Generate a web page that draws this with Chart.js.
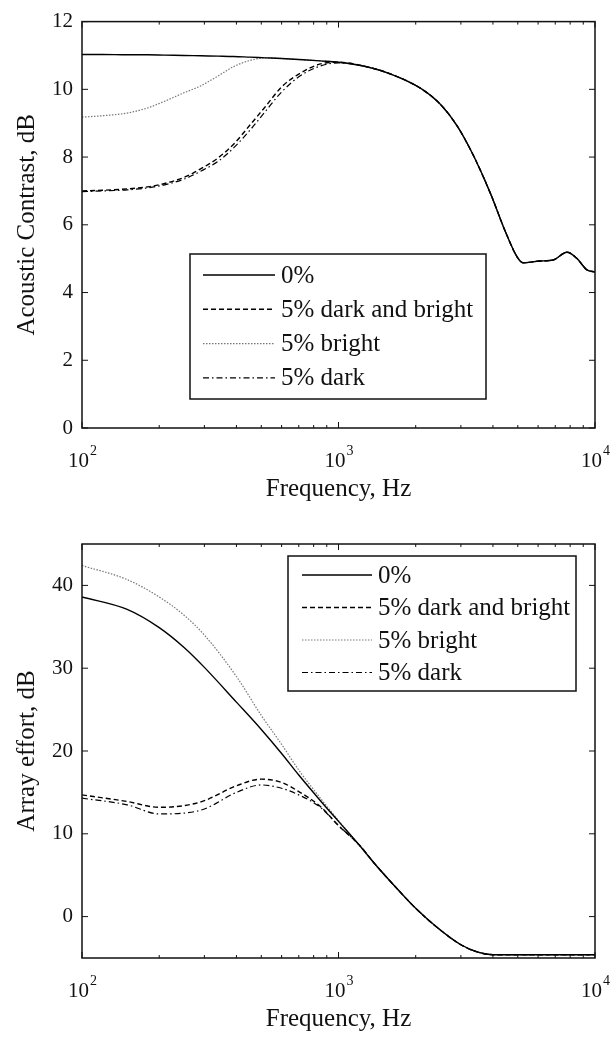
<!DOCTYPE html>
<html>
<head>
<meta charset="utf-8">
<script src="https://cdn.jsdelivr.net/npm/chart.js@4.4.1/dist/chart.umd.min.js"></script>
<style>
  body { margin: 0; background: #fff; }
  #wrap { position: relative; width: 613px; height: 1039px; }
  canvas { position: absolute; left: 0; }
</style>
</head>
<body>
<div id="wrap">
  <canvas id="contrastChart" width="613" height="520" style="top:0"></canvas>
  <canvas id="effortChart" width="613" height="519" style="top:520px"></canvas>
</div>
<script>
const seriesLabels = ['0%', '5% dark and bright', '5% bright', '5% dark'];
const freqTickExps = [2, 3, 4];

// upper plot: acoustic contrast
const contrastFreq   = [100, 120, 150, 180, 210, 250, 290, 340, 390, 450, 520, 600, 700, 850, 1000, 1300, 1600, 2100, 2500, 2900, 3350, 3900, 4500, 4970, 5230, 6100, 6860, 7780, 8490, 9300, 10000];
const contrastNone   = [11.03, 11.03, 11.02, 11.02, 11.01, 11.0, 10.99, 10.98, 10.97, 10.95, 10.93, 10.91, 10.88, 10.84, 10.8, 10.66, 10.45, 10.02, 9.55, 8.92, 8.06, 6.95, 5.75, 5.05, 4.88, 4.93, 4.96, 5.19, 5.01, 4.67, 4.61];
const contrastBoth   = [7.0, 7.02, 7.06, 7.12, 7.22, 7.4, 7.65, 7.98, 8.38, 8.93, 9.5, 10.07, 10.45, 10.75, 10.8, 10.66, 10.45, 10.02, 9.55, 8.92, 8.06, 6.95, 5.75, 5.05, 4.88, 4.93, 4.96, 5.19, 5.01, 4.67, 4.61];
const contrastBright = [9.18, 9.22, 9.3, 9.45, 9.65, 9.9, 10.1, 10.4, 10.67, 10.85, 10.93, 10.91, 10.88, 10.84, 10.8, 10.66, 10.45, 10.02, 9.55, 8.92, 8.06, 6.95, 5.75, 5.05, 4.88, 4.93, 4.96, 5.19, 5.01, 4.67, 4.61];
const contrastDark   = [6.98, 7.0, 7.03, 7.09, 7.18, 7.35, 7.58, 7.88, 8.27, 8.78, 9.36, 9.92, 10.37, 10.69, 10.78, 10.66, 10.45, 10.02, 9.55, 8.92, 8.06, 6.95, 5.75, 5.05, 4.88, 4.93, 4.96, 5.19, 5.01, 4.67, 4.61];
const contrastYTicks = [0, 2, 4, 6, 8, 10, 12];

// lower plot: array effort
const effortFreq   = [100, 150, 200, 250, 300, 400, 500, 600, 700, 850, 1000, 1200, 1400, 1700, 2000, 2400, 3000, 3500, 4000, 5000, 7000, 10000];
const effortNone   = [38.6, 37.1, 34.9, 32.5, 30.1, 25.9, 22.6, 19.7, 17.1, 14.0, 11.5, 8.7, 6.2, 3.3, 1.0, -1.2, -3.4, -4.3, -4.6, -4.6, -4.6, -4.6];
const effortBoth   = [14.7, 13.9, 13.2, 13.4, 14.0, 15.8, 16.6, 16.2, 15.1, 13.3, 11.0, 8.7, 6.2, 3.3, 1.0, -1.2, -3.4, -4.3, -4.6, -4.6, -4.6, -4.6];
const effortBright = [42.4, 40.7, 38.6, 36.4, 34.0, 29.0, 24.3, 20.8, 17.7, 14.3, 11.6, 8.7, 6.2, 3.3, 1.0, -1.2, -3.4, -4.3, -4.6, -4.6, -4.6, -4.6];
const effortDark   = [14.3, 13.5, 12.4, 12.5, 13.0, 15.0, 15.9, 15.5, 14.7, 13.2, 11.0, 8.7, 6.2, 3.3, 1.0, -1.2, -3.4, -4.3, -4.6, -4.6, -4.6, -4.6];
const effortYTicks = [0, 10, 20, 30, 40];

const serif = '"Liberation Serif", "Times New Roman", serif';
const lineStyles = [
  { color: '#000', width: 1.4, dash: [] },
  { color: '#000', width: 1.4, dash: [5, 3] },
  { color: '#777', width: 1.2, dash: [1.5, 1.5] },
  { color: '#000', width: 1.2, dash: [6, 3, 1.5, 3] }
];

// box, inward ticks on all four sides, 10^n labels
const frameTicks = {
  id: 'frameTicks',
  afterDraw(chart) {
    const { ctx, chartArea: a, scales: { x, y } } = chart;
    ctx.save();
    ctx.strokeStyle = '#111';
    ctx.lineWidth = 1;
    ctx.beginPath();
    y.ticks.forEach(t => {
      const py = y.getPixelForValue(t.value);
      ctx.moveTo(a.left, py); ctx.lineTo(a.left + 6, py);
      ctx.moveTo(a.right, py); ctx.lineTo(a.right - 6, py);
    });
    for (let e = 2; e <= 4; e++) {
      for (let m = 1; m <= 9; m++) {
        const v = m * Math.pow(10, e);
        if (v > 10000) break;
        const px = x.getPixelForValue(v);
        const len = m === 1 ? 6 : 3;
        ctx.moveTo(px, a.bottom); ctx.lineTo(px, a.bottom - len);
        ctx.moveTo(px, a.top); ctx.lineTo(px, a.top + len);
      }
    }
    ctx.stroke();
    ctx.lineWidth = 1.5;
    ctx.strokeRect(a.left, a.top, a.right - a.left, a.bottom - a.top);

    ctx.fillStyle = '#111';
    ctx.textBaseline = 'alphabetic';
    freqTickExps.forEach(e => {
      const px = x.getPixelForValue(Math.pow(10, e));
      ctx.font = '21px ' + serif;
      const wBase = ctx.measureText('10').width;
      ctx.font = '14px ' + serif;
      const wExp = ctx.measureText(String(e)).width;
      const x0 = px - (wBase + wExp) / 2;
      ctx.font = '21px ' + serif;
      ctx.fillText('10', x0, a.bottom + 39);
      ctx.font = '14px ' + serif;
      ctx.fillText(String(e), x0 + wBase + 1, a.bottom + 27);
    });
    ctx.restore();
  }
};

// legend in a framed box inside the plot
const boxLegend = {
  id: 'boxLegend',
  afterDatasetsDraw(chart, args, opts) {
    const { ctx } = chart;
    ctx.save();
    ctx.fillStyle = '#fff';
    ctx.fillRect(opts.x1, opts.y1, opts.x2 - opts.x1, opts.y2 - opts.y1);
    ctx.strokeStyle = '#111';
    ctx.lineWidth = 1.5;
    ctx.strokeRect(opts.x1, opts.y1, opts.x2 - opts.x1, opts.y2 - opts.y1);
    ctx.font = '25px ' + serif;
    ctx.textBaseline = 'middle';
    chart.data.datasets.forEach((ds, i) => {
      const cy = opts.row0 + i * opts.rowH;
      ctx.strokeStyle = ds.borderColor;
      ctx.lineWidth = ds.borderWidth;
      ctx.setLineDash(ds.borderDash);
      ctx.beginPath();
      ctx.moveTo(opts.lineX1, cy);
      ctx.lineTo(opts.lineX2, cy);
      ctx.stroke();
      ctx.setLineDash([]);
      ctx.fillStyle = '#111';
      ctx.fillText(ds.label, opts.textX, cy + 1);
    });
    ctx.restore();
  }
};

function makeChart(id, cfg) {
  const ctx = document.getElementById(id).getContext('2d');
  return new Chart(ctx, {
    type: 'line',
    data: {
      datasets: cfg.series.map((s, i) => ({
        label: seriesLabels[i],
        data: cfg.freq.map((f, j) => ({ x: f, y: s[j] })),
        borderColor: lineStyles[i].color,
        borderWidth: lineStyles[i].width,
        borderDash: lineStyles[i].dash,
        pointRadius: 0,
        cubicInterpolationMode: 'monotone',
        fill: false
      }))
    },
    options: {
      responsive: false,
      animation: false,
      layout: { padding: { top: cfg.padTop, right: 18, left: 0, bottom: 0 } },
      plugins: {
        legend: { display: false },
        tooltip: { enabled: false },
        boxLegend: cfg.legend
      },
      scales: {
        x: {
          type: 'logarithmic',
          min: 100,
          max: 10000,
          grid: { display: false, drawTicks: false },
          border: { display: false },
          ticks: { display: false },
          title: {
            display: true,
            text: 'Frequency, Hz',
            color: '#111',
            font: { family: serif, size: 25 },
            padding: { top: 0, bottom: cfg.xTitlePad }
          },
          afterFit: scale => { scale.height = cfg.xHeight; }
        },
        y: {
          min: cfg.yMin,
          max: cfg.yMax,
          grid: { display: false, drawTicks: false },
          border: { display: false },
          afterBuildTicks: scale => { scale.ticks = cfg.yTicks.map(v => ({ value: v })); },
          ticks: {
            color: '#111',
            padding: 9,
            font: { family: serif, size: 21 }
          },
          title: {
            display: true,
            text: cfg.yTitle,
            color: '#111',
            font: { family: serif, size: 25 },
            padding: { top: 12, bottom: 0 }
          },
          afterFit: scale => { scale.width = 82; }
        }
      }
    },
    plugins: [boxLegend, frameTicks]
  });
}

makeChart('contrastChart', {
  freq: contrastFreq,
  series: [contrastNone, contrastBoth, contrastBright, contrastDark],
  yMin: 0, yMax: 12, yTicks: contrastYTicks,
  yTitle: 'Acoustic Contrast, dB',
  padTop: 14, xHeight: 92, xTitlePad: 16,
  legend: { x1: 190, y1: 254, x2: 486, y2: 399, row0: 275, rowH: 34.3, lineX1: 203, lineX2: 275, textX: 281 }
});

makeChart('effortChart', {
  freq: effortFreq,
  series: [effortNone, effortBoth, effortBright, effortDark],
  yMin: -5, yMax: 45, yTicks: effortYTicks,
  yTitle: 'Array effort, dB',
  padTop: 24, xHeight: 81, xTitlePad: 5,
  legend: { x1: 288, y1: 36, x2: 576, y2: 171, row0: 55, rowH: 32.5, lineX1: 302, lineX2: 372, textX: 378 }
});
</script>
</body>
</html>
